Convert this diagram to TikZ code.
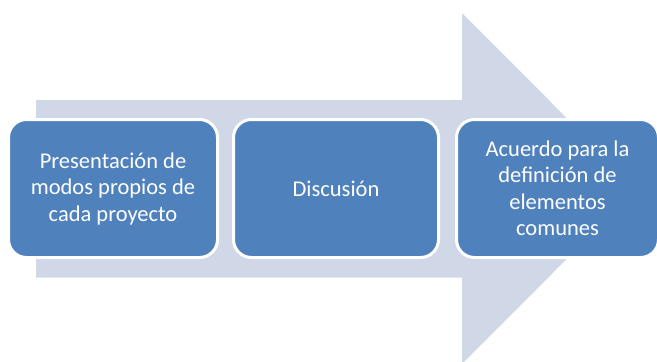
\documentclass[tikz,border=0pt]{standalone}
\usepackage{fontspec}
\setmainfont{Carlito}
\definecolor{arrowfill}{HTML}{D0D8E8}
\definecolor{boxfill}{HTML}{4F81BD}
\begin{document}
\begin{tikzpicture}[x=1pt,y=-1pt,
  stepbox/.style={draw=white, line width=3pt, fill=boxfill, rounded corners=18pt,
    minimum height=138pt, text=white, align=center, inner sep=0pt,
    font=\fontsize{22.5}{26.5}\selectfont}]
\useasboundingbox (0,0) rectangle (657,362);
\clip (0,0) rectangle (657,362);
\fill[arrowfill] (36,100) -- (462,100) -- (462,13) -- (637,188.5) -- (462,364) -- (462,277.5) -- (36,277.5) -- cycle;
\node[stepbox, minimum width=209pt] (a) at (113,188.5) {Presentación de\\modos propios de\\cada proyecto};
\node[stepbox, minimum width=205pt] (b) at (336,188.5) {Discusión};
\node[stepbox, minimum width=202pt] (c) at (557.5,188.5) {Acuerdo para la\\definición de\\elementos\\comunes};
\end{tikzpicture}
\end{document}
